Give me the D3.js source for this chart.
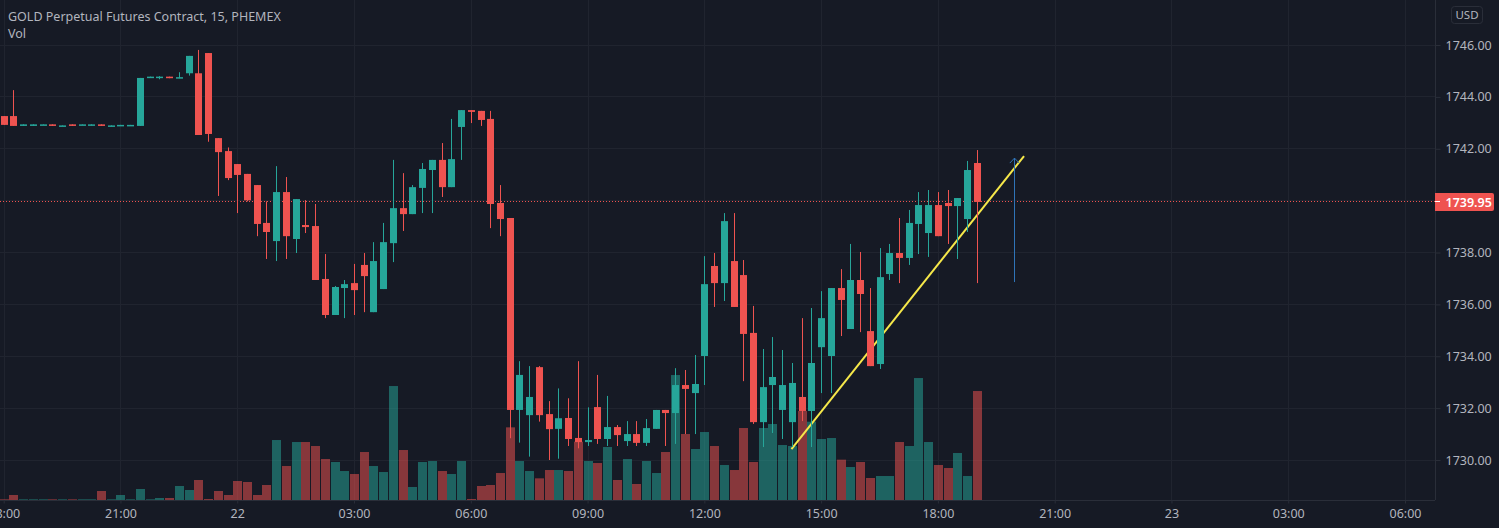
<!DOCTYPE html>
<html>
<head>
<meta charset="utf-8">
<script src="https://cdn.jsdelivr.net/npm/d3@7"></script>
<style>
    html, body { margin: 0; padding: 0; background: #161a25; overflow: hidden; }
    svg { display: block; }
    text { font-family: "Noto Sans", sans-serif; }
</style>
</head>
<body>
<script>
const opens = [
    1743.26,1743.26,1742.88,1742.88,1742.92,1742.94,1742.88,1742.94,1742.92,1742.90,
    1742.94,1742.87,1742.90,1742.90,1742.88,1744.73,1744.74,1744.78,1744.72,1744.91,
    1744.91,1745.69,1742.41,1741.91,1741.41,1741.03,1740.60,1739.14,1738.44,1740.33,
    1738.52,1739.06,1739.02,1736.98,1735.59,1736.63,1736.82,1737.52,1735.70,1736.59,
    1738.36,1739.71,1739.48,1740.49,1741.18,1741.57,1740.52,1742.84,1743.49,1743.46,
    1743.15,1739.91,1739.33,1731.93,1731.73,1733.58,1731.77,1731.20,1731.62,1730.85,
    1730.69,1732.04,1730.81,1731.27,1730.73,1731.00,1730.66,1731.20,1731.93,1731.81,
    1732.89,1732.58,1734.01,1737.48,1736.82,1737.67,1737.13,1734.90,1731.46,1732.89,
    1731.93,1731.46,1732.43,1731.89,1734.35,1734.01,1736.63,1735.05,1736.94,1734.97,
    1733.70,1737.17,1737.98,1737.79,1739.10,1738.75,1739.83,1739.91,1739.79,1739.29,1741.45
];
const closes = [
    1742.92,1742.88,1742.94,1742.94,1742.94,1742.88,1742.90,1742.88,1742.94,1742.94,
    1742.88,1742.90,1742.92,1742.92,1744.73,1744.78,1744.78,1744.72,1744.76,1745.58,
    1742.53,1742.57,1741.87,1740.87,1740.99,1740.01,1739.10,1738.79,1740.33,1738.63,
    1740.06,1738.98,1736.94,1735.59,1736.67,1736.78,1736.55,1737.09,1737.67,1738.40,
    1739.71,1739.48,1740.52,1741.22,1741.57,1740.52,1741.60,1743.49,1743.42,1743.11,
    1739.87,1739.29,1731.93,1733.28,1732.43,1731.73,1731.19,1731.61,1730.81,1730.69,
    1730.77,1730.81,1731.27,1730.96,1731.00,1730.66,1731.23,1731.93,1731.81,1732.89,
    1732.74,1732.93,1736.78,1736.82,1739.21,1735.90,1734.86,1731.46,1732.81,1733.20,
    1732.89,1732.97,1731.89,1733.74,1735.47,1736.63,1736.17,1736.94,1736.40,1733.62,
    1737.05,1737.98,1737.79,1739.14,1739.83,1739.83,1738.63,1739.79,1740.10,1741.18,1739.95
];
const highs = [
    1743.26,1744.26,1742.94,1742.94,1742.94,1742.94,1742.90,1742.94,1742.94,1742.94,
    1742.94,1742.90,1742.92,1742.92,1744.73,1744.78,1744.80,1744.78,1744.95,1745.58,
    1745.81,1745.69,1742.41,1742.05,1741.41,1741.03,1740.60,1739.97,1741.33,1740.91,
    1740.06,1740.02,1739.87,1737.94,1736.71,1736.94,1737.56,1737.98,1738.40,1739.14,
    1741.57,1741.06,1740.60,1741.45,1741.57,1742.22,1743.15,1743.49,1743.49,1743.46,
    1743.46,1740.60,1739.33,1733.81,1733.62,1733.62,1732.27,1732.76,1732.38,1733.81,
    1732.03,1733.28,1732.47,1731.35,1731.50,1731.50,1731.58,1731.93,1731.93,1733.54,
    1733.47,1734.05,1737.86,1737.98,1739.52,1739.52,1737.71,1735.94,1734.28,1734.74,
    1734.24,1733.74,1735.47,1735.86,1736.51,1736.63,1737.36,1738.33,1738.02,1736.63,
    1738.17,1738.33,1739.33,1739.64,1740.33,1740.41,1740.33,1740.41,1740.10,1741.53,1741.95
];
const lows = [
    1742.92,1742.88,1742.88,1742.88,1742.92,1742.88,1742.88,1742.88,1742.92,1742.90,
    1742.88,1742.87,1742.90,1742.90,1742.88,1744.73,1744.68,1744.72,1744.72,1744.82,
    1742.53,1742.27,1740.18,1740.79,1739.52,1739.97,1738.63,1737.75,1737.67,1737.75,
    1737.98,1738.75,1736.94,1735.47,1735.59,1735.47,1735.59,1735.70,1735.70,1736.59,
    1737.63,1738.83,1739.48,1739.52,1739.52,1740.14,1740.52,1741.57,1742.99,1742.88,
    1738.94,1738.63,1730.84,1730.67,1730.13,1731.48,1730.00,1730.05,1730.54,1730.45,
    1730.54,1730.62,1730.54,1730.54,1730.54,1730.54,1730.54,1731.20,1730.54,1730.62,
    1731.00,1731.00,1732.89,1735.90,1736.13,1735.90,1733.04,1731.39,1730.50,1731.04,
    1730.81,1730.50,1731.50,1730.50,1732.58,1732.58,1734.78,1735.05,1734.93,1733.62,
    1733.51,1736.94,1736.82,1737.52,1737.94,1737.83,1738.63,1738.33,1737.75,1738.79,1736.82
];
const volumes = [
    2,15,2,2,2,2,2,2,2,2,
    27,2,15,2,33,2,6,6,42,30,
    60,3,27,15,57,54,15,45,180,102,
    174,174,162,123,114,87,78,144,102,84,
    342,150,39,114,117,87,78,117,3,42,
    45,81,218,117,87,65,90,90,87,175,
    117,111,159,60,123,48,117,81,144,375,
    198,153,204,162,105,90,216,114,216,228,
    165,162,267,235,183,186,121,99,114,66,
    72,72,174,162,366,174,105,96,141,72,327
];
const priceTicks = [1730, 1732, 1734, 1736, 1738, 1740, 1742, 1744, 1746];
// one label every 12 bars (3 hours)
const timeLabels = ["18:00", "21:00", "22", "03:00", "06:00", "09:00", "12:00", "15:00", "18:00", "21:00", "23", "03:00", "06:00"];
const lastPrice = 1739.95;
const trendBars = [80.95, 104.85];
const trendPrices = [1730.42, 1741.72];
const arrowBar = 103.8;
const arrowPrices = [1736.86, 1741.64];

const width = 1499;
const height = 528;
const paneRight = 1435;
const paneBottom = 500;
const upColor = "#26a69a";
const downColor = "#ef5350";
const gridColor = "#20242f";
const borderColor = "#2a2e39";
const textColor = "#b2b5be";

const xScale = d3.scaleLinear().domain([0, 144]).range([3.7, 1405]);
const yScale = d3.scaleLinear().domain([1730, 1746]).range([460, 45]);
const volScale = d3.scaleLinear().domain([0, 400]).range([paneBottom, paneBottom - 133.3]);
const crispX = i => Math.round(xScale(i)) + 0.5;
const crispY = p => Math.floor(yScale(p)) + 0.5;

const bars = opens.map((o, i) => ({ i, o, c: closes[i], h: highs[i], l: lows[i], v: volumes[i] }));
const barColor = d => d.c >= d.o ? upColor : downColor;

const svg = d3.select("body").append("svg").attr("width", width).attr("height", height);
svg.append("rect").attr("width", width).attr("height", height).attr("fill", "#161a25");

// grid
const timeTicks = timeLabels.map((d, i) => i * 12);
svg.append("g").selectAll("line").data(timeTicks).enter().append("line")
    .attr("x1", d => crispX(d)).attr("x2", d => crispX(d))
    .attr("y1", 0).attr("y2", paneBottom)
    .attr("stroke", gridColor);
svg.append("g").selectAll("line").data(priceTicks).enter().append("line")
    .attr("x1", 0).attr("x2", paneRight)
    .attr("y1", d => crispY(d)).attr("y2", d => crispY(d))
    .attr("stroke", gridColor);

// volume
svg.append("g").selectAll("rect").data(bars).enter().append("rect")
    .attr("x", d => crispX(d.i) - 4.5)
    .attr("width", 9)
    .attr("y", d => volScale(d.v))
    .attr("height", d => paneBottom - volScale(d.v))
    .attr("fill", barColor)
    .attr("opacity", 0.52);

// last price line
svg.append("line")
    .attr("x1", 0).attr("x2", paneRight)
    .attr("y1", crispY(lastPrice)).attr("y2", crispY(lastPrice))
    .attr("stroke", downColor).attr("stroke-width", 1).attr("stroke-dasharray", "1 2");

// drawn trend line sits under the candles
svg.append("line")
    .attr("x1", xScale(trendBars[0])).attr("y1", yScale(trendPrices[0]))
    .attr("x2", xScale(trendBars[1])).attr("y2", yScale(trendPrices[1]))
    .attr("stroke", "#f6e84a").attr("stroke-width", 2);

// candles
const candles = svg.append("g");
candles.selectAll(".wick").data(bars).enter().append("line")
    .attr("class", "wick")
    .attr("x1", d => crispX(d.i)).attr("x2", d => crispX(d.i))
    .attr("y1", d => yScale(d.h)).attr("y2", d => yScale(d.l))
    .attr("stroke", barColor).attr("stroke-width", 1);
candles.selectAll(".body").data(bars).enter().append("rect")
    .attr("class", "body")
    .attr("x", d => crispX(d.i) - 3.5)
    .attr("width", 7)
    .attr("y", d => yScale(Math.max(d.o, d.c)))
    .attr("height", d => Math.max(1.5, Math.abs(yScale(d.o) - yScale(d.c))))
    .attr("fill", barColor);

// arrow
const arrowX = crispX(arrowBar);
const arrowTop = yScale(arrowPrices[1]);
svg.append("line")
    .attr("x1", arrowX).attr("x2", arrowX)
    .attr("y1", yScale(arrowPrices[0])).attr("y2", arrowTop)
    .attr("stroke", "#2f74b8").attr("stroke-width", 1);
svg.append("path")
    .attr("d", `M${arrowX - 4.7},${arrowTop + 5}L${arrowX},${arrowTop}L${arrowX + 4.7},${arrowTop + 5}`)
    .attr("fill", "none").attr("stroke", "#2f74b8").attr("stroke-width", 1);

// axes
const xAxis = d3.axisBottom(xScale).tickValues(timeTicks).tickSize(3).tickPadding(6)
    .tickFormat((d, i) => timeLabels[i]);
const gx = svg.append("g").attr("transform", `translate(0, ${paneBottom + 0.5})`).call(xAxis);
gx.select(".domain").attr("stroke", borderColor).attr("d", `M0,0H${paneRight}`);
gx.selectAll("line").attr("stroke", borderColor);
gx.selectAll("text").attr("fill", textColor).style("font-size", "12.5px").style("font-family", '"Noto Sans", sans-serif');

const yAxis = d3.axisRight(yScale).tickValues(priceTicks).tickSize(5).tickPadding(5)
    .tickFormat(d3.format(".2f"));
const gy = svg.append("g").attr("transform", `translate(${paneRight + 0.5}, 0)`).call(yAxis);
gy.select(".domain").attr("stroke", borderColor).attr("d", `M0,0V${paneBottom}`);
gy.selectAll("line").attr("stroke", borderColor);
gy.selectAll("text").attr("fill", textColor).style("font-size", "12.5px").style("font-family", '"Noto Sans", sans-serif');

// last price tag
const tagY = Math.round(yScale(lastPrice));
svg.append("path")
    .attr("d", `M${paneRight},${tagY - 9}H1492a2,2 0 0 1 2,2V${tagY + 7}a2,2 0 0 1 -2,2H${paneRight}Z`)
    .attr("fill", downColor);
svg.append("line")
    .attr("x1", paneRight).attr("x2", paneRight + 5).attr("y1", tagY - 0.5).attr("y2", tagY - 0.5)
    .attr("stroke", "#fff");
svg.append("text")
    .attr("x", paneRight + 10.5).attr("y", tagY + 4.5)
    .attr("fill", "#fff").style("font-size", "12.5px").style("font-weight", "600")
    .text(d3.format(".2f")(lastPrice));

// unit button
svg.append("rect")
    .attr("x", 1451.5).attr("y", 6.5).attr("width", 31).attr("height", 17).attr("rx", 3)
    .attr("fill", "none").attr("stroke", borderColor);
svg.append("text")
    .attr("x", 1467).attr("y", 19).attr("text-anchor", "middle")
    .attr("fill", textColor).style("font-size", "11.5px")
    .text("USD");

// legend
svg.append("text")
    .attr("x", 8).attr("y", 20.5)
    .attr("fill", textColor).style("font-size", "12.5px")
    .text("GOLD Perpetual Futures Contract, 15, PHEMEX");
svg.append("text")
    .attr("x", 8).attr("y", 38)
    .attr("fill", textColor).style("font-size", "12.5px")
    .text("Vol");
</script>
</body>
</html>
